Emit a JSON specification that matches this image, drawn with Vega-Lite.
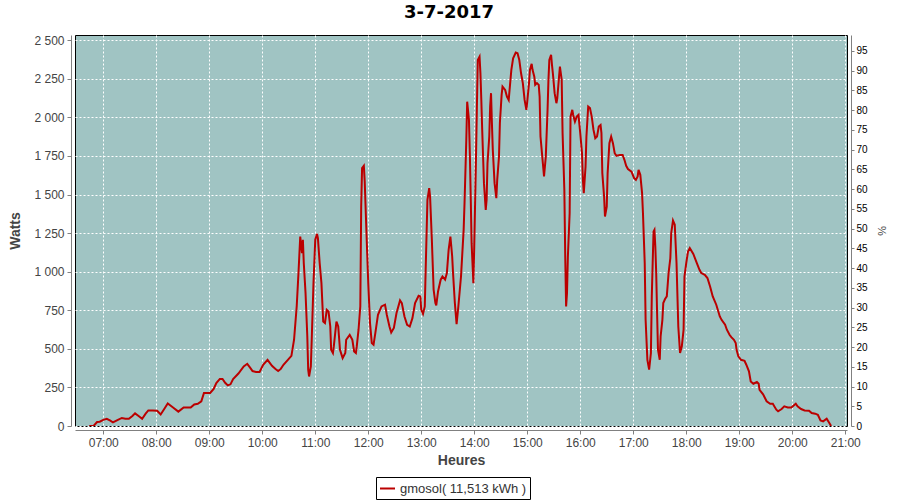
{
  "$schema": "https://vega.github.io/schema/vega-lite/v6.json",
  "width": 772,
  "height": 391,
  "autosize": {"type": "none"},
  "padding": {"left": 75, "top": 35, "right": 53, "bottom": 74},
  "background": "#ffffff",
  "config": {
    "view": {"fill": "#a0c4c3", "stroke": "#000000", "strokeWidth": 1},
    "font": "Liberation Sans"
  },
  "title": {
    "text": "3-7-2017",
    "font": "DejaVu Sans",
    "fontSize": 18,
    "fontWeight": "bold",
    "color": "#000000",
    "anchor": "middle",
    "dx": -12,
    "offset": 10
  },
  "layer": [
    {
      "data": {
        "values": [
          {"t":"2017-07-03T06:44","watts":0},{"t":"2017-07-03T06:49","watts":0},{"t":"2017-07-03T06:53","watts":26},{"t":"2017-07-03T06:56","watts":28},
          {"t":"2017-07-03T07:00","watts":40},{"t":"2017-07-03T07:04","watts":47},{"t":"2017-07-03T07:08","watts":35},{"t":"2017-07-03T07:11","watts":23},
          {"t":"2017-07-03T07:16","watts":38},{"t":"2017-07-03T07:21","watts":52},{"t":"2017-07-03T07:25","watts":47},{"t":"2017-07-03T07:29","watts":47},
          {"t":"2017-07-03T07:33","watts":65},{"t":"2017-07-03T07:36","watts":82},{"t":"2017-07-03T07:40","watts":65},{"t":"2017-07-03T07:44","watts":47},
          {"t":"2017-07-03T07:48","watts":80},{"t":"2017-07-03T07:51","watts":101},{"t":"2017-07-03T07:56","watts":101},{"t":"2017-07-03T08:01","watts":99},
          {"t":"2017-07-03T08:05","watts":75},{"t":"2017-07-03T08:09","watts":110},{"t":"2017-07-03T08:13","watts":146},{"t":"2017-07-03T08:19","watts":120},
          {"t":"2017-07-03T08:25","watts":93},{"t":"2017-07-03T08:31","watts":120},{"t":"2017-07-03T08:39","watts":120},{"t":"2017-07-03T08:43","watts":140},
          {"t":"2017-07-03T08:47","watts":144},{"t":"2017-07-03T08:51","watts":160},{"t":"2017-07-03T08:54","watts":214},{"t":"2017-07-03T09:01","watts":214},
          {"t":"2017-07-03T09:05","watts":240},{"t":"2017-07-03T09:08","watts":278},{"t":"2017-07-03T09:12","watts":305},{"t":"2017-07-03T09:15","watts":305},
          {"t":"2017-07-03T09:18","watts":280},{"t":"2017-07-03T09:21","watts":263},{"t":"2017-07-03T09:24","watts":270},{"t":"2017-07-03T09:27","watts":304},
          {"t":"2017-07-03T09:33","watts":340},{"t":"2017-07-03T09:39","watts":386},{"t":"2017-07-03T09:43","watts":403},{"t":"2017-07-03T09:46","watts":380},
          {"t":"2017-07-03T09:49","watts":356},{"t":"2017-07-03T09:53","watts":350},{"t":"2017-07-03T09:57","watts":350},{"t":"2017-07-03T10:01","watts":397},
          {"t":"2017-07-03T10:06","watts":429},{"t":"2017-07-03T10:11","watts":390},{"t":"2017-07-03T10:15","watts":370},{"t":"2017-07-03T10:18","watts":356},
          {"t":"2017-07-03T10:21","watts":370},{"t":"2017-07-03T10:24","watts":397},{"t":"2017-07-03T10:29","watts":429},{"t":"2017-07-03T10:33","watts":455},
          {"t":"2017-07-03T10:36","watts":559},{"t":"2017-07-03T10:39","watts":775},{"t":"2017-07-03T10:41","watts":991},{"t":"2017-07-03T10:43","watts":1228},
          {"t":"2017-07-03T10:45","watts":1120},{"t":"2017-07-03T10:46","watts":1207},{"t":"2017-07-03T10:47","watts":1056},{"t":"2017-07-03T10:49","watts":861},
          {"t":"2017-07-03T10:51","watts":580},{"t":"2017-07-03T10:52","watts":365},{"t":"2017-07-03T10:53","watts":321},{"t":"2017-07-03T10:55","watts":386},
          {"t":"2017-07-03T10:56","watts":559},{"t":"2017-07-03T10:58","watts":926},{"t":"2017-07-03T11:00","watts":1207},{"t":"2017-07-03T11:02","watts":1245},
          {"t":"2017-07-03T11:03","watts":1218},{"t":"2017-07-03T11:05","watts":1056},{"t":"2017-07-03T11:07","watts":926},{"t":"2017-07-03T11:09","watts":677},
          {"t":"2017-07-03T11:11","watts":667},{"t":"2017-07-03T11:13","watts":753},{"t":"2017-07-03T11:15","watts":742},{"t":"2017-07-03T11:17","watts":645},
          {"t":"2017-07-03T11:18","watts":494},{"t":"2017-07-03T11:20","watts":473},{"t":"2017-07-03T11:21","watts":516},{"t":"2017-07-03T11:23","watts":624},
          {"t":"2017-07-03T11:24","watts":677},{"t":"2017-07-03T11:26","watts":645},{"t":"2017-07-03T11:28","watts":494},{"t":"2017-07-03T11:31","watts":440},
          {"t":"2017-07-03T11:34","watts":473},{"t":"2017-07-03T11:35","watts":559},{"t":"2017-07-03T11:39","watts":591},{"t":"2017-07-03T11:42","watts":559},
          {"t":"2017-07-03T11:44","watts":483},{"t":"2017-07-03T11:46","watts":473},{"t":"2017-07-03T11:47","watts":516},{"t":"2017-07-03T11:49","watts":624},
          {"t":"2017-07-03T11:51","watts":775},{"t":"2017-07-03T11:52","watts":1422},{"t":"2017-07-03T11:53","watts":1671},{"t":"2017-07-03T11:55","watts":1686},
          {"t":"2017-07-03T11:56","watts":1584},{"t":"2017-07-03T11:58","watts":1250},{"t":"2017-07-03T12:00","watts":926},{"t":"2017-07-03T12:02","watts":667},
          {"t":"2017-07-03T12:04","watts":538},{"t":"2017-07-03T12:06","watts":527},{"t":"2017-07-03T12:08","watts":602},{"t":"2017-07-03T12:11","watts":721},
          {"t":"2017-07-03T12:15","watts":775},{"t":"2017-07-03T12:19","watts":786},{"t":"2017-07-03T12:21","watts":721},{"t":"2017-07-03T12:24","watts":645},
          {"t":"2017-07-03T12:26","watts":606},{"t":"2017-07-03T12:29","watts":635},{"t":"2017-07-03T12:32","watts":732},{"t":"2017-07-03T12:36","watts":814},
          {"t":"2017-07-03T12:38","watts":797},{"t":"2017-07-03T12:41","watts":710},{"t":"2017-07-03T12:44","watts":656},{"t":"2017-07-03T12:47","watts":645},
          {"t":"2017-07-03T12:50","watts":699},{"t":"2017-07-03T12:53","watts":797},{"t":"2017-07-03T12:57","watts":844},{"t":"2017-07-03T12:59","watts":840},
          {"t":"2017-07-03T13:00","watts":753},{"t":"2017-07-03T13:02","watts":727},{"t":"2017-07-03T13:04","watts":775},{"t":"2017-07-03T13:05","watts":1012},
          {"t":"2017-07-03T13:07","watts":1466},{"t":"2017-07-03T13:09","watts":1542},{"t":"2017-07-03T13:10","watts":1487},{"t":"2017-07-03T13:12","watts":1207},
          {"t":"2017-07-03T13:14","watts":883},{"t":"2017-07-03T13:16","watts":797},{"t":"2017-07-03T13:17","watts":781},{"t":"2017-07-03T13:19","watts":872},
          {"t":"2017-07-03T13:22","watts":948},{"t":"2017-07-03T13:24","watts":969},{"t":"2017-07-03T13:27","watts":948},{"t":"2017-07-03T13:29","watts":991},
          {"t":"2017-07-03T13:31","watts":1142},{"t":"2017-07-03T13:33","watts":1228},{"t":"2017-07-03T13:35","watts":1100},{"t":"2017-07-03T13:36","watts":991},
          {"t":"2017-07-03T13:38","watts":800},{"t":"2017-07-03T13:40","watts":660},{"t":"2017-07-03T13:42","watts":775},{"t":"2017-07-03T13:45","watts":969},
          {"t":"2017-07-03T13:48","watts":1271},{"t":"2017-07-03T13:49","watts":1445},{"t":"2017-07-03T13:51","watts":1854},{"t":"2017-07-03T13:52","watts":2102},
          {"t":"2017-07-03T13:54","watts":1984},{"t":"2017-07-03T13:55","watts":1768},{"t":"2017-07-03T13:56","watts":1487},{"t":"2017-07-03T13:57","watts":1185},
          {"t":"2017-07-03T13:59","watts":926},{"t":"2017-07-03T14:00","watts":1163},{"t":"2017-07-03T14:02","watts":1746},{"t":"2017-07-03T14:03","watts":2070},
          {"t":"2017-07-03T14:04","watts":2372},{"t":"2017-07-03T14:06","watts":2394},{"t":"2017-07-03T14:07","watts":2286},{"t":"2017-07-03T14:08","watts":2113},
          {"t":"2017-07-03T14:09","watts":1919},{"t":"2017-07-03T14:10","watts":1746},{"t":"2017-07-03T14:11","watts":1574},{"t":"2017-07-03T14:13","watts":1401},
          {"t":"2017-07-03T14:14","watts":1466},{"t":"2017-07-03T14:15","watts":1703},{"t":"2017-07-03T14:17","watts":1876},{"t":"2017-07-03T14:18","watts":2070},
          {"t":"2017-07-03T14:19","watts":2157},{"t":"2017-07-03T14:20","watts":1962},{"t":"2017-07-03T14:21","watts":1790},{"t":"2017-07-03T14:23","watts":1574},
          {"t":"2017-07-03T14:25","watts":1477},{"t":"2017-07-03T14:26","watts":1595},{"t":"2017-07-03T14:28","watts":1746},{"t":"2017-07-03T14:29","watts":1962},
          {"t":"2017-07-03T14:31","watts":2146},{"t":"2017-07-03T14:32","watts":2200},{"t":"2017-07-03T14:35","watts":2178},{"t":"2017-07-03T14:37","watts":2135},
          {"t":"2017-07-03T14:39","watts":2113},{"t":"2017-07-03T14:40","watts":2178},{"t":"2017-07-03T14:42","watts":2308},{"t":"2017-07-03T14:44","watts":2383},
          {"t":"2017-07-03T14:47","watts":2420},{"t":"2017-07-03T14:49","watts":2416},{"t":"2017-07-03T14:51","watts":2372},{"t":"2017-07-03T14:53","watts":2286},
          {"t":"2017-07-03T14:55","watts":2222},{"t":"2017-07-03T14:57","watts":2113},{"t":"2017-07-03T14:59","watts":2049},{"t":"2017-07-03T15:00","watts":2102},
          {"t":"2017-07-03T15:02","watts":2222},{"t":"2017-07-03T15:03","watts":2308},{"t":"2017-07-03T15:05","watts":2347},{"t":"2017-07-03T15:06","watts":2308},
          {"t":"2017-07-03T15:08","watts":2264},{"t":"2017-07-03T15:09","watts":2211},{"t":"2017-07-03T15:11","watts":2222},{"t":"2017-07-03T15:13","watts":2211},
          {"t":"2017-07-03T15:14","watts":2135},{"t":"2017-07-03T15:15","watts":1876},{"t":"2017-07-03T15:17","watts":1746},{"t":"2017-07-03T15:19","watts":1617},
          {"t":"2017-07-03T15:21","watts":1746},{"t":"2017-07-03T15:23","watts":2049},{"t":"2017-07-03T15:24","watts":2243},{"t":"2017-07-03T15:25","watts":2372},
          {"t":"2017-07-03T15:27","watts":2405},{"t":"2017-07-03T15:28","watts":2340},{"t":"2017-07-03T15:29","watts":2286},{"t":"2017-07-03T15:31","watts":2157},
          {"t":"2017-07-03T15:33","watts":2092},{"t":"2017-07-03T15:34","watts":2124},{"t":"2017-07-03T15:36","watts":2264},{"t":"2017-07-03T15:37","watts":2329},
          {"t":"2017-07-03T15:39","watts":2243},{"t":"2017-07-03T15:40","watts":1898},{"t":"2017-07-03T15:42","watts":1530},{"t":"2017-07-03T15:43","watts":1098},
          {"t":"2017-07-03T15:44","watts":775},{"t":"2017-07-03T15:45","watts":861},{"t":"2017-07-03T15:46","watts":1098},{"t":"2017-07-03T15:48","watts":1380},
          {"t":"2017-07-03T15:49","watts":2005},{"t":"2017-07-03T15:51","watts":2049},{"t":"2017-07-03T15:52","watts":2016},{"t":"2017-07-03T15:54","watts":1973},
          {"t":"2017-07-03T15:56","watts":2005},{"t":"2017-07-03T15:58","watts":2016},{"t":"2017-07-03T16:00","watts":1898},{"t":"2017-07-03T16:02","watts":1768},
          {"t":"2017-07-03T16:03","watts":1595},{"t":"2017-07-03T16:04","watts":1509},{"t":"2017-07-03T16:06","watts":1681},{"t":"2017-07-03T16:07","watts":1876},
          {"t":"2017-07-03T16:09","watts":2070},{"t":"2017-07-03T16:11","watts":2060},{"t":"2017-07-03T16:13","watts":2005},{"t":"2017-07-03T16:15","watts":1919},
          {"t":"2017-07-03T16:17","watts":1865},{"t":"2017-07-03T16:19","watts":1876},{"t":"2017-07-03T16:21","watts":1941},{"t":"2017-07-03T16:23","watts":1951},
          {"t":"2017-07-03T16:24","watts":1898},{"t":"2017-07-03T16:25","watts":1639},{"t":"2017-07-03T16:27","watts":1487},{"t":"2017-07-03T16:28","watts":1358},
          {"t":"2017-07-03T16:30","watts":1422},{"t":"2017-07-03T16:31","watts":1639},{"t":"2017-07-03T16:33","watts":1833},{"t":"2017-07-03T16:35","watts":1876},
          {"t":"2017-07-03T16:37","watts":1833},{"t":"2017-07-03T16:39","watts":1768},{"t":"2017-07-03T16:41","watts":1751},{"t":"2017-07-03T16:45","watts":1757},
          {"t":"2017-07-03T16:48","watts":1757},{"t":"2017-07-03T16:50","watts":1725},{"t":"2017-07-03T16:52","watts":1686},{"t":"2017-07-03T16:54","watts":1665},
          {"t":"2017-07-03T16:58","watts":1649},{"t":"2017-07-03T17:01","watts":1606},{"t":"2017-07-03T17:03","watts":1595},{"t":"2017-07-03T17:05","watts":1617},
          {"t":"2017-07-03T17:06","watts":1660},{"t":"2017-07-03T17:08","watts":1628},{"t":"2017-07-03T17:10","watts":1509},{"t":"2017-07-03T17:11","watts":1380},
          {"t":"2017-07-03T17:13","watts":1056},{"t":"2017-07-03T17:14","watts":688},{"t":"2017-07-03T17:16","watts":429},{"t":"2017-07-03T17:18","watts":365},
          {"t":"2017-07-03T17:20","watts":473},{"t":"2017-07-03T17:21","watts":840},{"t":"2017-07-03T17:22","watts":1056},{"t":"2017-07-03T17:23","watts":1260},
          {"t":"2017-07-03T17:24","watts":1271},{"t":"2017-07-03T17:25","watts":1163},{"t":"2017-07-03T17:26","watts":991},{"t":"2017-07-03T17:27","watts":732},
          {"t":"2017-07-03T17:28","watts":494},{"t":"2017-07-03T17:30","watts":429},{"t":"2017-07-03T17:31","watts":580},{"t":"2017-07-03T17:33","watts":688},
          {"t":"2017-07-03T17:34","watts":797},{"t":"2017-07-03T17:36","watts":823},{"t":"2017-07-03T17:38","watts":840},{"t":"2017-07-03T17:40","watts":991},
          {"t":"2017-07-03T17:42","watts":1088},{"t":"2017-07-03T17:43","watts":1250},{"t":"2017-07-03T17:45","watts":1332},{"t":"2017-07-03T17:47","watts":1304},
          {"t":"2017-07-03T17:49","watts":1056},{"t":"2017-07-03T17:51","watts":645},{"t":"2017-07-03T17:53","watts":473},{"t":"2017-07-03T17:55","watts":516},
          {"t":"2017-07-03T17:57","watts":624},{"t":"2017-07-03T17:58","watts":969},{"t":"2017-07-03T18:00","watts":1056},{"t":"2017-07-03T18:02","watts":1131},
          {"t":"2017-07-03T18:04","watts":1153},{"t":"2017-07-03T18:08","watts":1115},{"t":"2017-07-03T18:12","watts":1056},{"t":"2017-07-03T18:15","watts":1012},
          {"t":"2017-07-03T18:17","watts":991},{"t":"2017-07-03T18:21","watts":980},{"t":"2017-07-03T18:24","watts":959},{"t":"2017-07-03T18:27","watts":904},
          {"t":"2017-07-03T18:30","watts":840},{"t":"2017-07-03T18:34","watts":786},{"t":"2017-07-03T18:38","watts":710},{"t":"2017-07-03T18:40","watts":688},
          {"t":"2017-07-03T18:44","watts":656},{"t":"2017-07-03T18:46","watts":624},{"t":"2017-07-03T18:49","watts":591},{"t":"2017-07-03T18:51","watts":576},
          {"t":"2017-07-03T18:54","watts":559},{"t":"2017-07-03T18:56","watts":538},{"t":"2017-07-03T18:57","watts":494},{"t":"2017-07-03T18:59","watts":451},
          {"t":"2017-07-03T19:02","watts":429},{"t":"2017-07-03T19:06","watts":423},{"t":"2017-07-03T19:08","watts":397},{"t":"2017-07-03T19:11","watts":354},
          {"t":"2017-07-03T19:13","watts":289},{"t":"2017-07-03T19:16","watts":274},{"t":"2017-07-03T19:20","watts":285},{"t":"2017-07-03T19:22","watts":274},
          {"t":"2017-07-03T19:23","watts":235},{"t":"2017-07-03T19:27","watts":205},{"t":"2017-07-03T19:31","watts":160},{"t":"2017-07-03T19:35","watts":144},
          {"t":"2017-07-03T19:38","watts":144},{"t":"2017-07-03T19:42","watts":106},{"t":"2017-07-03T19:44","watts":95},{"t":"2017-07-03T19:48","watts":110},
          {"t":"2017-07-03T19:51","watts":127},{"t":"2017-07-03T19:55","watts":120},{"t":"2017-07-03T19:59","watts":120},{"t":"2017-07-03T20:04","watts":144},
          {"t":"2017-07-03T20:06","watts":127},{"t":"2017-07-03T20:10","watts":110},{"t":"2017-07-03T20:14","watts":101},{"t":"2017-07-03T20:19","watts":99},
          {"t":"2017-07-03T20:22","watts":84},{"t":"2017-07-03T20:26","watts":80},{"t":"2017-07-03T20:29","watts":73},{"t":"2017-07-03T20:32","watts":36},
          {"t":"2017-07-03T20:35","watts":30},{"t":"2017-07-03T20:39","watts":47},{"t":"2017-07-03T20:42","watts":19},{"t":"2017-07-03T20:44","watts":0}
        ]
      },
      "mark": {"type": "line", "strokeWidth": 2, "interpolate": "linear", "clip": true},
      "encoding": {
        "x": {
          "field": "t",
          "type": "temporal",
          "scale": {
            "domain": [
              {"year": 2017, "month": 7, "date": 3, "hours": 6, "minutes": 28},
              {"year": 2017, "month": 7, "date": 3, "hours": 21, "minutes": 2}
            ]
          },
          "axis": {
            "title": "Heures",
            "format": "%H:%M",
            "values": [
              {"year": 2017, "month": 7, "date": 3, "hours": 7},
              {"year": 2017, "month": 7, "date": 3, "hours": 8},
              {"year": 2017, "month": 7, "date": 3, "hours": 9},
              {"year": 2017, "month": 7, "date": 3, "hours": 10},
              {"year": 2017, "month": 7, "date": 3, "hours": 11},
              {"year": 2017, "month": 7, "date": 3, "hours": 12},
              {"year": 2017, "month": 7, "date": 3, "hours": 13},
              {"year": 2017, "month": 7, "date": 3, "hours": 14},
              {"year": 2017, "month": 7, "date": 3, "hours": 15},
              {"year": 2017, "month": 7, "date": 3, "hours": 16},
              {"year": 2017, "month": 7, "date": 3, "hours": 17},
              {"year": 2017, "month": 7, "date": 3, "hours": 18},
              {"year": 2017, "month": 7, "date": 3, "hours": 19},
              {"year": 2017, "month": 7, "date": 3, "hours": 20},
              {"year": 2017, "month": 7, "date": 3, "hours": 21}
            ],
            "labelFont": "Liberation Sans",
            "labelFontSize": 12,
            "labelColor": "#444444",
            "labelPadding": 3,
            "labelFlush": false,
            "tickColor": "#808080",
            "tickSize": 4,
            "domainColor": "#808080",
            "offset": 4,
            "grid": true,
            "gridColor": "#ffffff",
            "gridDash": [2, 2],
            "gridWidth": 1,
            "gridOpacity": 1,
            "titleFont": "Liberation Sans",
            "titleFontSize": 14,
            "titleFontWeight": "bold",
            "titleColor": "#444444",
            "titlePadding": 5
          }
        },
        "y": {
          "field": "watts",
          "type": "quantitative",
          "scale": {"domain": [0, 2534], "nice": false, "zero": true},
          "axis": {
            "title": "Watts",
            "values": [0, 250, 500, 750, 1000, 1250, 1500, 1750, 2000, 2250, 2500],
            "labelExpr": "replace(format(datum.value, ','), ',', ' ')",
            "labelFont": "Liberation Sans",
            "labelFontSize": 12,
            "labelColor": "#444444",
            "labelPadding": 3,
            "tickColor": "#808080",
            "tickSize": 4,
            "domainColor": "#808080",
            "offset": 4,
            "grid": true,
            "gridColor": "#ffffff",
            "gridDash": [2, 2],
            "gridWidth": 1,
            "gridOpacity": 1,
            "titleFont": "Liberation Sans",
            "titleFontSize": 14,
            "titleFontWeight": "bold",
            "titleColor": "#444444",
            "titlePadding": 11
          }
        },
        "color": {
          "datum": "gmosol( 11,513 kWh )",
          "type": "nominal",
          "scale": {"range": ["#bb0000"]},
          "legend": {
            "title": null,
            "orient": "none",
            "legendX": 301,
            "legendY": 442,
            "strokeColor": "#000000",
            "padding": 3,
            "symbolType": "stroke",
            "symbolSize": 225,
            "symbolStrokeWidth": 2,
            "labelFont": "Liberation Sans",
            "labelFontSize": 13,
            "labelColor": "#333333",
            "labelOffset": 4,
            "fillColor": "#ffffff"
          }
        }
      }
    },
    {
      "data": {"values": [{"pct": 0}, {"pct": 99}]},
      "mark": {"type": "point", "opacity": 0},
      "encoding": {
        "y": {
          "field": "pct",
          "type": "quantitative",
          "scale": {"domain": [0, 99], "nice": false, "zero": true},
          "axis": {
            "orient": "right",
            "title": "%",
            "values": [0, 5, 10, 15, 20, 25, 30, 35, 40, 45, 50, 55, 60, 65, 70, 75, 80, 85, 90, 95],
            "labelFont": "Liberation Sans",
            "labelFontSize": 10,
            "labelColor": "#000000",
            "labelPadding": 2,
            "tickColor": "#808080",
            "tickSize": 3,
            "domainColor": "#808080",
            "offset": 4,
            "grid": false,
            "titleFont": "Liberation Sans",
            "titleFontSize": 11,
            "titleFontWeight": "normal",
            "titleColor": "#444444",
            "titlePadding": 8
          }
        }
      }
    }
  ],
  "resolve": {"scale": {"y": "independent"}, "axis": {"y": "independent"}}
}
